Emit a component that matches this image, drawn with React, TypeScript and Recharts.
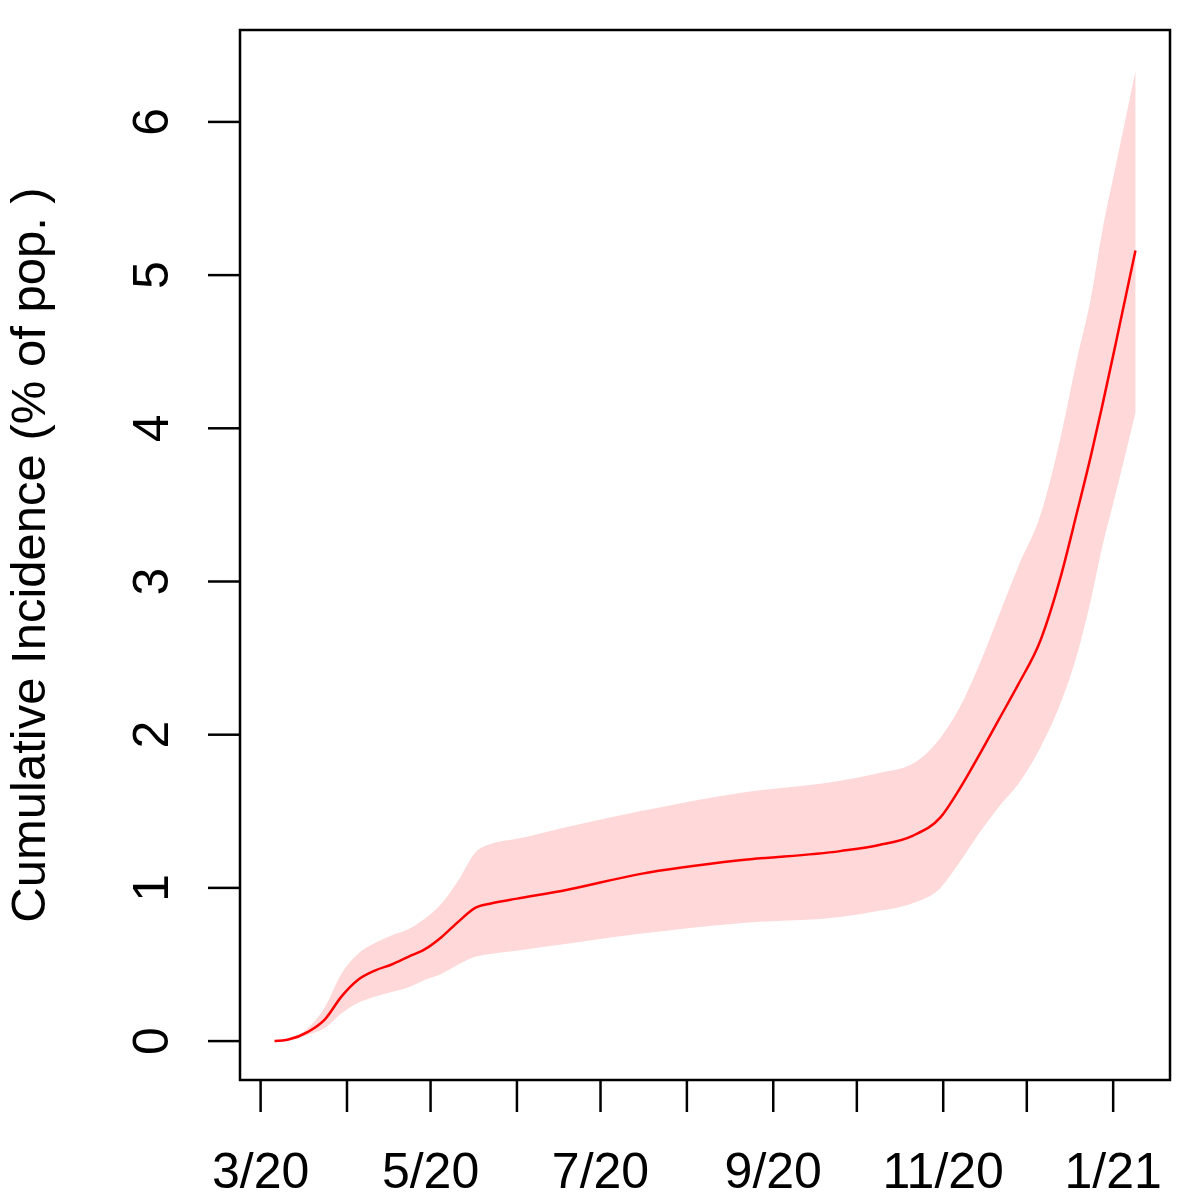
import { ComposedChart, Area, Line, XAxis, YAxis, ReferenceArea, Label } from 'recharts';

// days since 1 Mar 2020
const days = [5, 10, 17, 23, 29, 35, 41, 47, 53, 59, 65, 71, 77, 83, 92, 108, 136, 172, 208, 222, 234, 244, 251, 258, 265, 272, 280, 287, 293, 298, 302, 307, 314];
const incidence = [0, 0.01, 0.06, 0.14, 0.29, 0.4, 0.46, 0.5, 0.55, 0.6, 0.68, 0.78, 0.87, 0.9, 0.93, 0.98, 1.09, 1.18, 1.24, 1.28, 1.34, 1.46, 1.65, 1.87, 2.1, 2.33, 2.62, 3.02, 3.45, 3.82, 4.14, 4.56, 5.16];
const lower = [0, 0.005, 0.04, 0.085, 0.18, 0.25, 0.29, 0.32, 0.35, 0.4, 0.44, 0.5, 0.55, 0.57, 0.59, 0.63, 0.7, 0.77, 0.81, 0.85, 0.9, 1.0, 1.17, 1.36, 1.53, 1.68, 1.92, 2.2, 2.52, 2.88, 3.22, 3.58, 4.1];
const upper = [0, 0.015, 0.085, 0.22, 0.44, 0.57, 0.64, 0.69, 0.73, 0.8, 0.9, 1.05, 1.23, 1.29, 1.32, 1.39, 1.5, 1.62, 1.7, 1.75, 1.81, 1.98, 2.18, 2.46, 2.78, 3.1, 3.44, 3.93, 4.45, 4.85, 5.28, 5.72, 6.33];

// month starts (days since 1 Mar 2020) and their labels
const monthTicks = [0, 31, 61, 92, 122, 153, 184, 214, 245, 275, 306];
const monthLabels = ['3/20', '', '5/20', '', '7/20', '', '9/20', '', '11/20', '', '1/21'];
const yTicks = [0, 1, 2, 3, 4, 5, 6];

const data = days.map((d, i) => ({ day: d, mid: incidence[i], band: [lower[i], upper[i]] }));

const FONT = '"Liberation Sans", Arial, Helvetica, sans-serif';
const X_DOMAIN = [-7.4, 326.4];
const Y_DOMAIN = [-0.254, 6.6];

const XTick = ({ x, y, payload }: any) => {
  const i = monthTicks.indexOf(payload.value);
  return (
    <text x={x} y={y + 74} textAnchor="middle" fontFamily={FONT} fontSize={50} fill="#000">
      {monthLabels[i]}
    </text>
  );
};

const YTick = ({ y, payload }: any) => (
  <text
    x={168}
    y={y}
    transform={`rotate(-90, 168, ${y})`}
    textAnchor="middle"
    fontFamily={FONT}
    fontSize={50}
    fill="#000"
  >
    {payload.value}
  </text>
);

export default function App() {
  return (
    <div style={{ position: 'absolute', left: 0, top: 0, background: '#fff' }}>
      <ComposedChart width={1200} height={1200} data={data} margin={{ top: 30, right: 30, bottom: 0, left: 0 }}>
        <XAxis
          dataKey="day"
          type="number"
          domain={X_DOMAIN}
          allowDataOverflow
          ticks={monthTicks}
          interval={0}
          height={120}
          tickSize={32}
          axisLine={false}
          tickLine={{ stroke: '#000', strokeWidth: 2.5 }}
          tick={<XTick />}
        />
        <YAxis
          type="number"
          domain={Y_DOMAIN}
          allowDataOverflow
          ticks={yTicks}
          interval={0}
          width={240}
          tickSize={32}
          axisLine={false}
          tickLine={{ stroke: '#000', strokeWidth: 2.5 }}
          tick={<YTick />}
        >
          <Label
            content={() => (
              <text
                x={45}
                y={555}
                transform="rotate(-90, 45, 555)"
                textAnchor="middle"
                fontFamily={FONT}
                fontSize={49}
                fill="#000"
              >
                Cumulative Incidence (% of pop. )
              </text>
            )}
          />
        </YAxis>
        <Area
          dataKey="band"
          type="monotone"
          stroke="none"
          fill="#FFD9D9"
          fillOpacity={1}
          isAnimationActive={false}
        />
        <Line
          dataKey="mid"
          type="monotone"
          stroke="#FF0000"
          strokeWidth={2.5}
          dot={false}
          isAnimationActive={false}
        />
        <ReferenceArea
          x1={X_DOMAIN[0]}
          x2={X_DOMAIN[1]}
          y1={Y_DOMAIN[0]}
          y2={Y_DOMAIN[1]}
          fill="none"
          stroke="#000"
          strokeWidth={2.5}
        />
      </ComposedChart>
    </div>
  );
}
